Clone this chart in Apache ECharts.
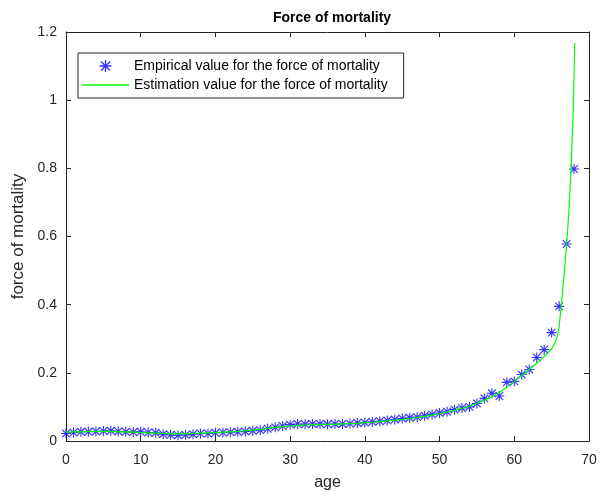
<!DOCTYPE html>
<html><head><meta charset="utf-8">
<script src="https://cdn.jsdelivr.net/npm/echarts@6/dist/echarts.min.js"></script>
<style>html,body{margin:0;padding:0;background:#fff}#c{width:603px;height:492px}</style>
</head><body><div id="c"></div>
<script>
const empAge = [];
for (let a = 0; a <= 68; a++) empAge.push(a);
const empValue = [0.022,0.025,0.027,0.027,0.028,0.029,0.030,0.028,0.027,0.026,
0.027,0.025,0.024,0.020,0.018,0.017,0.018,0.020,0.022,0.022,
0.024,0.025,0.026,0.027,0.028,0.030,0.032,0.036,0.040,0.044,
0.048,0.050,0.049,0.050,0.050,0.049,0.050,0.050,0.051,0.053,
0.054,0.056,0.058,0.060,0.063,0.066,0.068,0.070,0.074,0.078,
0.082,0.086,0.092,0.097,0.100,0.110,0.125,0.140,0.132,0.172,
0.175,0.195,0.210,0.245,0.268,0.318,0.395,0.578,0.798];
const estAge = [0,1,2,3,4,5,6,7,8,9,10,11,12,13,14,15,16,17,18,19,20,21,22,23,24,25,26,27,28,29,30,31,32,33,34,35,36,37,38,39,40,41,42,43,44,45,46,47,48,49,50,51,52,53,54,55,56,57,58,59,60,61,62,63,64,65,65.5,65.8,66,66.3,66.6,67,67.3,67.6,67.9,68.1];
const estValue = [0.026,0.027,0.027,0.028,0.028,0.028,0.028,0.027,0.027,0.026,
0.025,0.024,0.023,0.022,0.021,0.021,0.021,0.022,0.023,0.024,
0.025,0.026,0.027,0.028,0.030,0.032,0.034,0.037,0.040,0.042,
0.044,0.046,0.047,0.048,0.048,0.049,0.049,0.050,0.051,0.052,
0.054,0.055,0.057,0.059,0.061,0.063,0.066,0.069,0.072,0.076,
0.080,0.085,0.090,0.096,0.102,0.110,0.120,0.130,0.142,0.158,
0.175,0.192,0.210,0.228,0.248,0.270,0.290,0.310,0.335,0.400,0.470,0.575,0.670,0.800,0.980,1.168];
const xTicks = [0,10,20,30,40,50,60,70];
const yTicks = [0,0.2,0.4,0.6,0.8,1,1.2];

const star = 'path://M4.45 0 L5.55 0 L5.55 10 L4.45 10 Z M0 4.45 L10 4.45 L10 5.55 L0 5.55 Z M0.8 1.6 L1.6 0.8 L9.2 8.4 L8.4 9.2 Z M8.4 0.8 L9.2 1.6 L1.6 9.2 L0.8 8.4 Z';
const font = 'Liberation Sans';
const axCol = '#262626';
const chart = echarts.init(document.getElementById('c'));
const tick = () => ({show:true, inside:true, length:5, lineStyle:{color:axCol, width:1}});
const aline = () => ({show:true, onZero:false, lineStyle:{color:axCol, width:1}});
chart.setOption({
  animation:false,
  title:{text:'Force of mortality', left:327, textAlign:'center', top:6,
    textStyle:{fontFamily:font, fontSize:14, fontWeight:'bold', color:'#000'}},
  grid:{left:66, right:14, top:32, bottom:51, show:false, containLabel:false, outerBoundsMode:'none'},
  legend:{orient:'vertical', left:78, top:53, padding:[6,16,6,4], itemGap:5,
    itemWidth:47, itemHeight:12, backgroundColor:'#fff', borderColor:axCol, borderWidth:1,
    textStyle:{fontFamily:font, fontSize:14, color:'#000'},
    data:[{name:'Empirical value for the force of mortality', icon:star},
          {name:'Estimation value for the force of mortality', icon:'path://M0 0 L47 0 L47 1.3 L0 1.3 Z'}]},
  xAxis:[
    {type:'value', min:0, max:70, interval:10, position:'bottom', name:'age', nameLocation:'middle', nameGap:34,
      nameTextStyle:{fontFamily:font, fontSize:16, color:'#262626'},
      axisLine:aline(), axisTick:tick(),
      axisLabel:{fontFamily:font, fontSize:14, color:'#262626', margin:12,
        formatter:v=>xTicks.includes(v)?String(v):''}, splitLine:{show:false}},
    {type:'value', min:0, max:70, interval:10, position:'top', axisLine:aline(), axisTick:tick(),
      axisLabel:{show:false}, splitLine:{show:false}}
  ],
  yAxis:[
    {type:'value', min:0, max:1.2, interval:0.2, position:'left', name:'force of mortality', nameLocation:'middle', nameGap:37,
      nameTextStyle:{fontFamily:font, fontSize:17, color:'#262626'},
      axisLine:aline(), axisTick:tick(),
      axisLabel:{fontFamily:font, fontSize:14, color:'#262626', margin:9,
        formatter:v=>{const t=yTicks.find(x=>Math.abs(x-v)<1e-9); return t===undefined?'':String(t);}}, splitLine:{show:false}},
    {type:'value', min:0, max:1.2, interval:0.2, position:'right', axisLine:aline(), axisTick:tick(),
      axisLabel:{show:false}, splitLine:{show:false}}
  ],
  series:[
    {name:'Empirical value for the force of mortality', type:'scatter', symbol:star, symbolSize:10,
      symbolKeepAspect:true, itemStyle:{color:'#0000ff'}, z:3,
      data:empAge.map((a,i)=>[a, empValue[i]])},
    {name:'Estimation value for the force of mortality', type:'line', showSymbol:false, symbol:'none',
      lineStyle:{color:'#00ff00', width:1.2}, itemStyle:{color:'#00ff00'}, z:4,
      data:estAge.map((a,i)=>[a, estValue[i]])}
  ]
});
</script></body></html>
